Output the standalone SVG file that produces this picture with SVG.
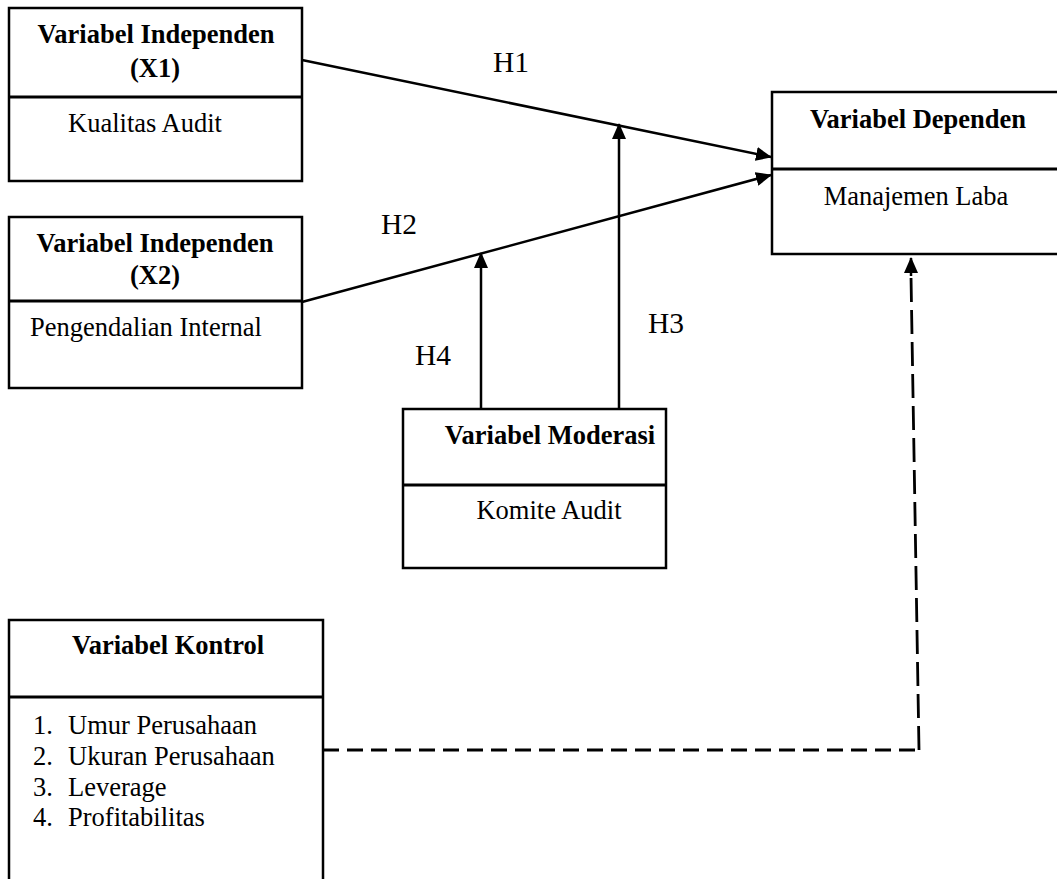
<svg xmlns="http://www.w3.org/2000/svg" width="1057" height="879" viewBox="0 0 1057 879">
<style>
  .box { fill: #fff; stroke: #000; stroke-width: 2.5; }
  .div { stroke: #000; stroke-width: 3; }
  .b { font-family: "Liberation Serif", "Times New Roman", serif; font-weight: bold; font-size: 26.5px; fill: #000; }
  .r { font-family: "Liberation Serif", "Times New Roman", serif; font-size: 26.5px; fill: #000; }
  .h { font-family: "Liberation Serif", "Times New Roman", serif; font-size: 29.5px; fill: #000; }
  .ln { stroke: #000; stroke-width: 2.5; fill: none; }
  .dash { stroke: #000; stroke-width: 2.8; fill: none; }
</style>
<defs>
  <marker id="arr" viewBox="0 0 16 14" refX="15" refY="7" markerWidth="16" markerHeight="14" markerUnits="userSpaceOnUse" orient="auto">
    <path d="M0,0 L16,7 L0,14 Z" fill="#000"/>
  </marker>
</defs>
<rect width="1057" height="879" fill="#fff"/>

<g id="x1">
  <rect class="box" x="9" y="8" width="293" height="173"/>
  <line class="div" x1="9" y1="97" x2="302" y2="97"/>
  <text class="b" x="156" y="43" text-anchor="middle">Variabel Independen</text>
  <text class="b" x="155" y="77" text-anchor="middle">(X1)</text>
  <text class="r" x="145" y="132" text-anchor="middle">Kualitas Audit</text>
</g>

<g id="x2">
  <rect class="box" x="9" y="217" width="293" height="171"/>
  <line class="div" x1="9" y1="301" x2="302" y2="301"/>
  <text class="b" x="155" y="252" text-anchor="middle">Variabel Independen</text>
  <text class="b" x="155" y="284" text-anchor="middle">(X2)</text>
  <text class="r" x="146" y="336" text-anchor="middle">Pengendalian Internal</text>
</g>

<g id="dependen">
  <rect class="box" x="772" y="92" width="292" height="162"/>
  <line class="div" x1="772" y1="169" x2="1064" y2="169"/>
  <text class="b" x="918" y="128" text-anchor="middle">Variabel Dependen</text>
  <text class="r" x="916" y="205" text-anchor="middle">Manajemen Laba</text>
</g>

<g id="moderasi">
  <rect class="box" x="403" y="409" width="263" height="159"/>
  <line class="div" x1="403" y1="485" x2="666" y2="485"/>
  <text class="b" x="550" y="444" text-anchor="middle">Variabel Moderasi</text>
  <text class="r" x="549" y="519" text-anchor="middle">Komite Audit</text>
</g>

<g id="kontrol">
  <rect class="box" x="9" y="620" width="314" height="270"/>
  <line class="div" x1="9" y1="697" x2="323" y2="697"/>
  <text class="b" x="168" y="654" text-anchor="middle">Variabel Kontrol</text>
  <text class="r" x="33" y="734">1.</text><text class="r" x="68" y="734">Umur Perusahaan</text>
  <text class="r" x="33" y="765">2.</text><text class="r" x="68" y="765">Ukuran Perusahaan</text>
  <text class="r" x="33" y="796">3.</text><text class="r" x="68" y="796">Leverage</text>
  <text class="r" x="33" y="826">4.</text><text class="r" x="68" y="826">Profitabilitas</text>
</g>

<g id="connectors">
  <line class="ln" x1="302" y1="60" x2="771" y2="157" marker-end="url(#arr)"/>
  <line class="ln" x1="302" y1="302" x2="771" y2="175" marker-end="url(#arr)"/>
  <line class="ln" x1="619" y1="408" x2="619" y2="124" marker-end="url(#arr)"/>
  <line class="ln" x1="481" y1="408" x2="481" y2="253" marker-end="url(#arr)"/>
  <line class="dash" x1="323" y1="750" x2="919" y2="750" stroke-dasharray="16 8"/>
  <line class="dash" x1="919" y1="750" x2="911" y2="276" stroke-dasharray="24 8"/>
  <line class="ln" x1="911" y1="276" x2="911" y2="258" marker-end="url(#arr)"/>
</g>

<g id="labels">
  <text class="h" x="493" y="72">H1</text>
  <text class="h" x="381" y="234">H2</text>
  <text class="h" x="648" y="333">H3</text>
  <text class="h" x="415" y="365">H4</text>
</g>
</svg>
